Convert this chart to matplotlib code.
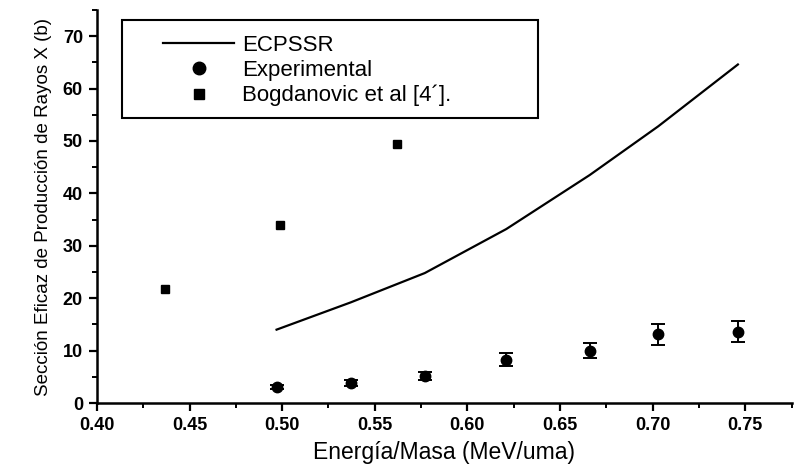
import matplotlib
matplotlib.use("Agg")
import matplotlib.pyplot as plt
from matplotlib.ticker import MultipleLocator, FormatStrFormatter
from matplotlib.lines import Line2D
from matplotlib.patches import Rectangle

# Data
ecpssr_x = [0.497, 0.537, 0.577, 0.621, 0.666, 0.703, 0.746]
ecpssr_y = [14.0, 19.2, 24.8, 33.2, 43.5, 52.8, 64.6]

exp_x = [0.497, 0.537, 0.577, 0.621, 0.666, 0.703, 0.746]
exp_y = [3.0, 3.8, 5.2, 8.3, 10.0, 13.1, 13.6]
exp_err = [0.4, 0.5, 0.8, 1.3, 1.5, 2.0, 2.0]

bog_x = [0.437, 0.499, 0.562]
bog_y = [21.8, 34.0, 49.5]

labels = ["ECPSSR", "Experimental", "Bogdanovic et al [4\u00b4]."]

plt.rcParams['font.family'] = ['Liberation Sans', 'DejaVu Sans']

fig = plt.figure(figsize=(7.94, 4.69), dpi=100)
ax = fig.add_axes([0.122, 0.1407, 0.875, 0.838])

ax.plot(ecpssr_x, ecpssr_y, color='black', lw=1.6)
ax.errorbar(exp_x, exp_y, yerr=exp_err, fmt='o', color='black', ms=7.5,
            capsize=5, elinewidth=1.4, capthick=1.4)
ax.plot(bog_x, bog_y, 's', color='black', ms=6)

ax.set_xlim(0.40, 0.775)
ax.set_ylim(0, 75)
ax.xaxis.set_major_locator(MultipleLocator(0.05))
ax.xaxis.set_minor_locator(MultipleLocator(0.025))
ax.yaxis.set_major_locator(MultipleLocator(10))
ax.yaxis.set_minor_locator(MultipleLocator(5))
ax.xaxis.set_major_formatter(FormatStrFormatter('%.2f'))

for s in ['top', 'right']:
    ax.spines[s].set_visible(False)
for s in ['left', 'bottom']:
    ax.spines[s].set_linewidth(1.8)

ax.tick_params(which='major', direction='out', length=6, width=1.6, labelsize=13, pad=4)
ax.tick_params(which='minor', direction='out', length=3.5, width=1.4)
for lab in ax.get_xticklabels() + ax.get_yticklabels():
    lab.set_fontweight('bold')

ax.set_xlabel("Energía/Masa (MeV/uma)", fontsize=16.5, labelpad=5)
ax.set_ylabel("Sección Eficaz de Producción de Rayos X (b)", fontsize=13.5, labelpad=8)

# Legend
handles = [
    Line2D([], [], color='black', lw=1.6),
    Line2D([], [], marker='o', ls='none', color='black', ms=9),
    Line2D([], [], marker='s', ls='none', color='black', ms=7),
]
leg = fig.legend(handles, labels, loc='upper left',
                 bbox_to_anchor=(163 / 794, (469 - 35) / 469),
                 bbox_transform=fig.transFigure, fontsize=16,
                 frameon=False, handlelength=3.2, labelspacing=0.18,
                 borderpad=0.0, handletextpad=0.35, borderaxespad=0.0)
fig.add_artist(Rectangle((122 / 794, (469 - 118) / 469), 416 / 794, 98 / 469,
                         transform=fig.transFigure, fill=False,
                         edgecolor='black', lw=1.5))

fig.savefig("out.png", dpi=100)
